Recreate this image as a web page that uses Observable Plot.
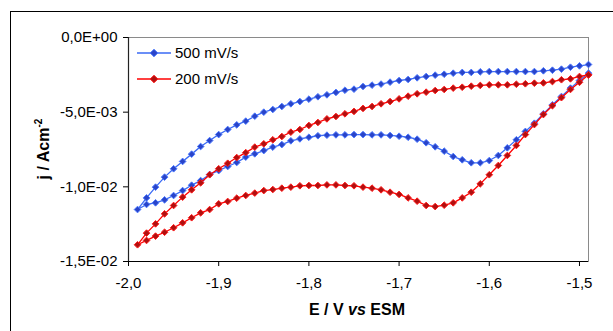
<!DOCTYPE html>
<html>
<head>
<meta charset="utf-8">
<script src="https://cdn.jsdelivr.net/npm/d3@7"></script>
<script src="https://cdn.jsdelivr.net/npm/@observablehq/plot@0.6"></script>
<style>
  body { margin:0; width:613px; height:331px; overflow:hidden; position:relative; background:#fff; font-family:"Liberation Sans", Arial, sans-serif; }
  #frame { position:absolute; left:10px; top:11px; width:720px; height:420px; border:1.5px solid #000; }
  #chart { position:absolute; left:0; top:0; }
  .leg { position:absolute; font-size:15px; line-height:18px; color:#000; white-space:nowrap; }
  .legsw { position:absolute; }
  #xtitle { position:absolute; left:257px; width:200px; top:300px; line-height:20px; text-align:center; font-weight:bold; font-size:16px; }
  #ytitle { position:absolute; left:43px; top:149px; transform:translate(-50%,-50%) rotate(-90deg); font-weight:bold; font-size:16px; white-space:nowrap; }
  #ytitle sup { font-size:10px; }
</style>
</head>
<body>
<div id="frame"></div>
<div id="chart"></div>
<div id="xtitle">E / V <i>vs</i> ESM</div>
<div id="ytitle">j / Acm<sup>-2</sup></div>
<script>
// Potential (V vs ESM): forward (cathodic) sweep and reverse sweep
const E_forward = [-1.49,-1.50,-1.51,-1.52,-1.53,-1.54,-1.55,-1.56,-1.57,-1.58,-1.59,-1.60,-1.61,-1.62,-1.63,-1.64,-1.65,-1.66,-1.67,-1.68,-1.69,-1.70,-1.71,-1.72,-1.73,-1.74,-1.75,-1.76,-1.77,-1.78,-1.79,-1.80,-1.81,-1.82,-1.83,-1.84,-1.85,-1.86,-1.87,-1.88,-1.89,-1.90,-1.91,-1.92,-1.93,-1.94,-1.95,-1.96,-1.97,-1.98,-1.99];
const E_reverse = [-1.98,-1.97,-1.96,-1.95,-1.94,-1.93,-1.92,-1.91,-1.90,-1.89,-1.88,-1.87,-1.86,-1.85,-1.84,-1.83,-1.82,-1.81,-1.80,-1.79,-1.78,-1.77,-1.76,-1.75,-1.74,-1.73,-1.72,-1.71,-1.70,-1.69,-1.68,-1.67,-1.66,-1.65,-1.64,-1.63,-1.62,-1.61,-1.60,-1.59,-1.58,-1.57,-1.56,-1.55,-1.54,-1.53,-1.52,-1.51,-1.50,-1.49];

// 500 mV/s current density (A cm-2)
const j500_forward = [-0.00239,-0.00288,-0.00339,-0.00395,-0.00451,-0.00511,-0.00574,-0.00629,-0.00685,-0.00739,-0.00790,-0.00824,-0.00839,-0.00839,-0.00819,-0.00797,-0.00761,-0.00732,-0.00705,-0.00681,-0.00668,-0.00661,-0.00656,-0.00652,-0.00652,-0.00650,-0.00650,-0.00652,-0.00652,-0.00654,-0.00658,-0.00668,-0.00679,-0.00692,-0.00717,-0.00734,-0.00757,-0.00779,-0.00801,-0.00837,-0.00864,-0.00891,-0.00917,-0.00958,-0.00989,-0.01025,-0.01058,-0.01087,-0.01107,-0.01118,-0.01152];
const j500_reverse = [-0.01074,-0.01002,-0.00935,-0.00879,-0.00830,-0.00781,-0.00730,-0.00690,-0.00650,-0.00616,-0.00585,-0.00560,-0.00527,-0.00500,-0.00482,-0.00462,-0.00444,-0.00429,-0.00413,-0.00397,-0.00384,-0.00368,-0.00353,-0.00346,-0.00328,-0.00319,-0.00312,-0.00299,-0.00288,-0.00281,-0.00270,-0.00261,-0.00252,-0.00246,-0.00239,-0.00234,-0.00234,-0.00230,-0.00228,-0.00228,-0.00228,-0.00228,-0.00228,-0.00228,-0.00223,-0.00219,-0.00212,-0.00199,-0.00190,-0.00181];

// 200 mV/s current density (A cm-2)
const j200_forward = [-0.00250,-0.00300,-0.00348,-0.00403,-0.00457,-0.00516,-0.00583,-0.00650,-0.00723,-0.00790,-0.00857,-0.00919,-0.00980,-0.01036,-0.01074,-0.01107,-0.01123,-0.01132,-0.01125,-0.01096,-0.01074,-0.01051,-0.01036,-0.01020,-0.01009,-0.01002,-0.00993,-0.00991,-0.00987,-0.00987,-0.00991,-0.00991,-0.00993,-0.01002,-0.01009,-0.01018,-0.01025,-0.01042,-0.01058,-0.01076,-0.01098,-0.01114,-0.01152,-0.01174,-0.01207,-0.01241,-0.01274,-0.01304,-0.01330,-0.01359,-0.01388];
const j200_reverse = [-0.01310,-0.01248,-0.01181,-0.01125,-0.01069,-0.01020,-0.00973,-0.00919,-0.00879,-0.00842,-0.00804,-0.00771,-0.00734,-0.00712,-0.00685,-0.00663,-0.00634,-0.00616,-0.00589,-0.00569,-0.00545,-0.00529,-0.00511,-0.00495,-0.00475,-0.00462,-0.00444,-0.00429,-0.00411,-0.00393,-0.00377,-0.00366,-0.00355,-0.00348,-0.00339,-0.00333,-0.00326,-0.00321,-0.00317,-0.00317,-0.00317,-0.00313,-0.00310,-0.00306,-0.00304,-0.00295,-0.00283,-0.00277,-0.00261,-0.00250];

const seriesNames = ["500 mV/s", "200 mV/s"];
const xTicks = [-2.0, -1.9, -1.8, -1.7, -1.6, -1.5];
const xTickLabels = ["-2,0", "-1,9", "-1,8", "-1,7", "-1,6", "-1,5"];
const yTicks = [0, -0.005, -0.01, -0.015];
const yTickLabels = ["0,0E+00", "-5,0E-03", "-1,0E-02", "-1,5E-02"];

const styles = {
  "500 mV/s": {line: "#3a6af5", fill: "#2a44c8", stroke: "#4a78ff"},
  "200 mV/s": {line: "#ff0000", fill: "#b01010", stroke: "#ff1a1a"}
};

function build(name, jf, jr) {
  const pts = [];
  E_forward.forEach((e, i) => pts.push({series: name, E: e, j: jf[i], k: pts.length}));
  E_reverse.forEach((e, i) => pts.push({series: name, E: e, j: jr[i], k: pts.length}));
  return pts;
}
const d500 = build(seriesNames[0], j500_forward, j500_reverse);
const d200 = build(seriesNames[1], j200_forward, j200_reverse);

const xFmt = d => xTickLabels[xTicks.findIndex(t => Math.abs(t - d) < 1e-9)];
const yFmt = d => yTickLabels[yTicks.findIndex(t => Math.abs(t - d) < 1e-9)];

function seriesMarks(data, name) {
  const s = styles[name];
  return [
    Plot.line(data, {x: "E", y: "j", sort: "k", stroke: s.line, strokeWidth: 1.3}),
    Plot.dot(data, {x: "E", y: "j", symbol: "diamond2", r: 3, fill: s.fill, stroke: s.stroke, strokeWidth: 1})
  ];
}

const chart = Plot.plot({
  width: 613,
  height: 331,
  marginLeft: 128,
  marginRight: 25,
  marginTop: 37,
  marginBottom: 70,
  style: {fontFamily: "'Liberation Sans', Arial, sans-serif", fontSize: "15px", background: "transparent", color: "#000"},
  x: {domain: [-2.0, -1.49]},
  y: {domain: [-0.015, 0]},
  marks: [
    Plot.frame({stroke: "#8a8a8a", strokeWidth: 1}),
    Plot.axisX({ticks: xTicks, tickFormat: xFmt, tickSize: 5, tickPadding: 11, label: null, stroke: "#000", fontSize: 15}),
    Plot.axisY({ticks: yTicks, tickFormat: yFmt, tickSize: 5, tickPadding: 6, label: null, stroke: "#000", fontSize: 15}),
    Plot.ruleY([-0.015], {stroke: "#000", strokeWidth: 1.2}),
    Plot.ruleX([-2.0], {stroke: "#222", strokeWidth: 1.2}),
    ...seriesMarks(d500, seriesNames[0]),
    ...seriesMarks(d200, seriesNames[1])
  ]
});
document.getElementById("chart").appendChild(chart);

// Legend (inside plot area, top-left)
const legendTop = [53, 79];
seriesNames.forEach((name, i) => {
  const s = styles[name];
  const cy = legendTop[i];
  const sw = document.createElementNS("http://www.w3.org/2000/svg", "svg");
  sw.setAttribute("width", 36); sw.setAttribute("height", 12);
  sw.setAttribute("class", "legsw");
  sw.style.left = "136px"; sw.style.top = (cy - 6) + "px";
  sw.innerHTML = `<line x1="1" y1="6" x2="35" y2="6" stroke="${s.line}" stroke-width="1.3"/>` +
    `<path d="M18,2.2 L21.8,6 L18,9.8 L14.2,6 Z" fill="${s.fill}" stroke="${s.stroke}" stroke-width="1"/>`;
  document.body.appendChild(sw);
  const t = document.createElement("div");
  t.className = "leg";
  t.style.left = "175px"; t.style.top = (cy - 9) + "px";
  t.textContent = name;
  document.body.appendChild(t);
});
</script>
</body>
</html>
